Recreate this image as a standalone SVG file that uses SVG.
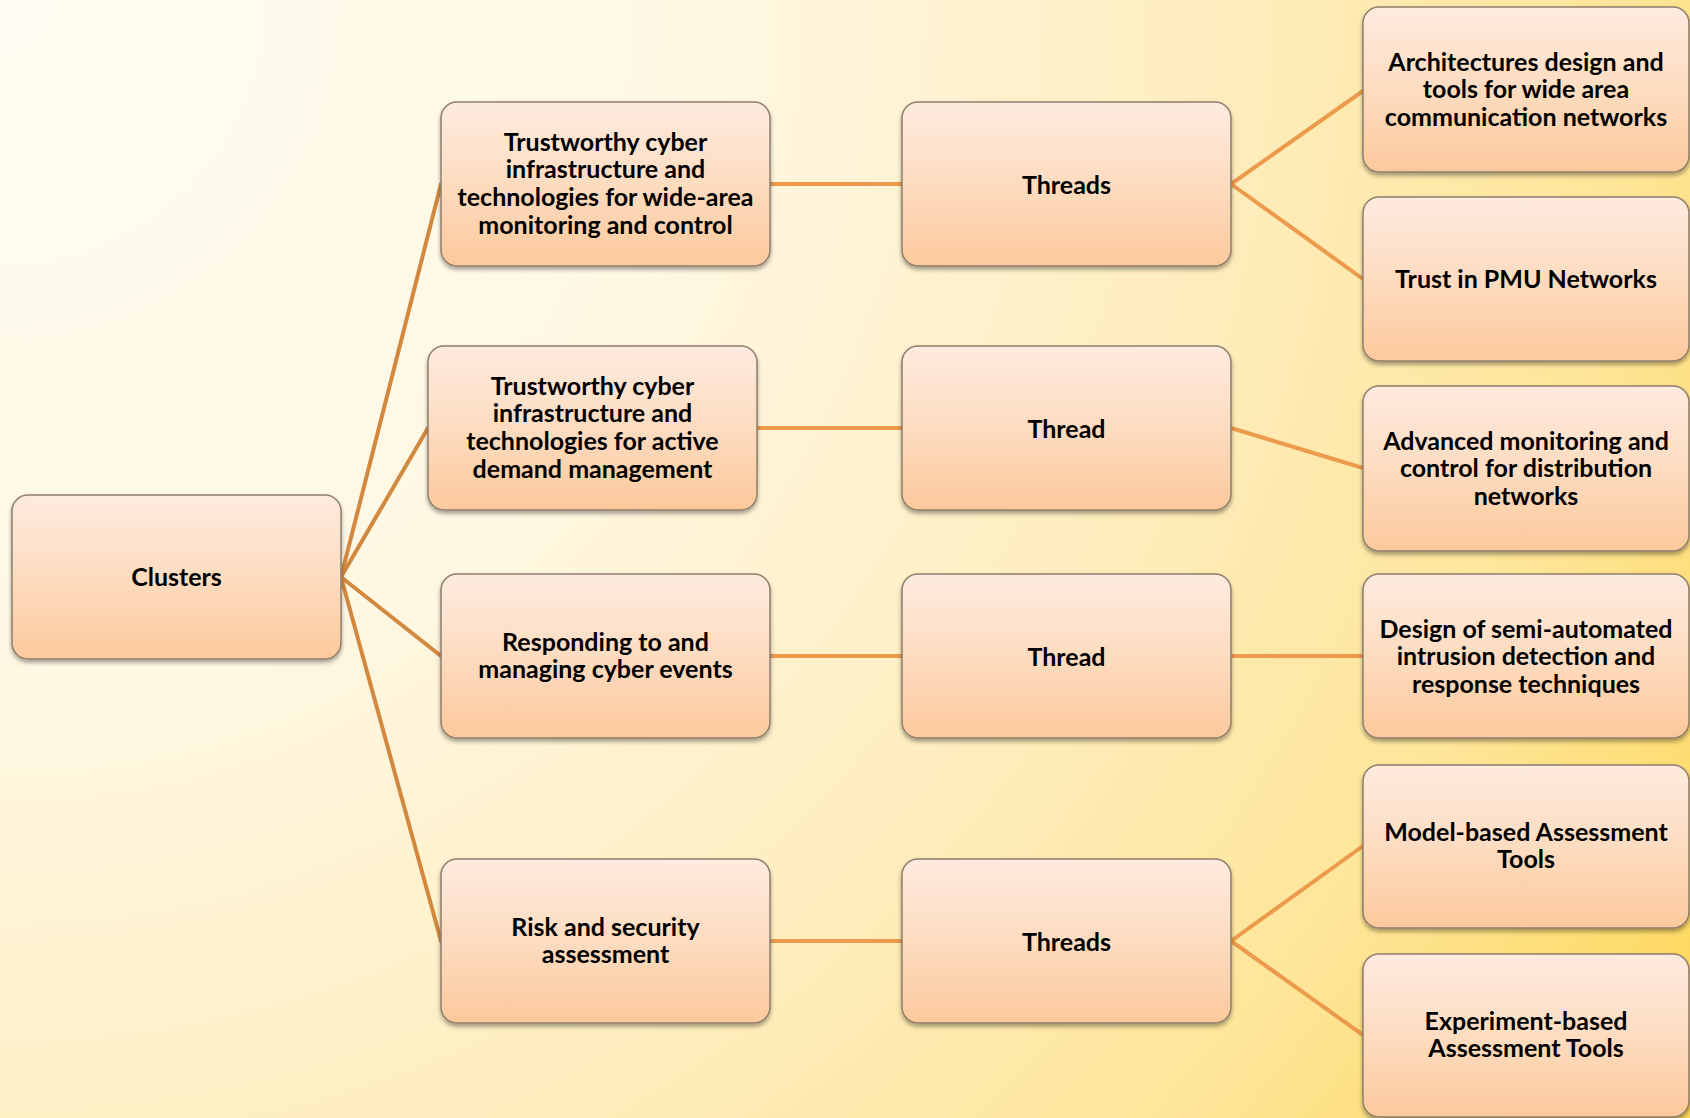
<svg xmlns="http://www.w3.org/2000/svg" width="1690" height="1118" viewBox="0 0 1690 1118">
  <defs>
    <radialGradient id="bg" cx="0" cy="0" r="2050" gradientUnits="userSpaceOnUse">
      <stop offset="0" stop-color="#fffdf2"/>
      <stop offset="0.35" stop-color="#fff7e2"/>
      <stop offset="0.6" stop-color="#feedbd"/>
      <stop offset="0.8" stop-color="#fee597"/>
      <stop offset="1" stop-color="#fdd550"/>
    </radialGradient>
    <linearGradient id="boxFill" x1="0" y1="0" x2="0" y2="1">
      <stop offset="0" stop-color="#feebdf"/>
      <stop offset="0.5" stop-color="#fddcc0"/>
      <stop offset="1" stop-color="#fcc99c"/>
    </linearGradient>
    <filter id="shadow" x="-10%" y="-10%" width="120%" height="130%">
      <feDropShadow dx="0" dy="3" stdDeviation="2.2" flood-color="#000" flood-opacity="0.35"/>
    </filter>
    <style>
      .box { fill: url(#boxFill); stroke: #8e7e6c; stroke-width: 1.5; filter: url(#shadow); }
      .lbl { font-family: "Lato", "Open Sans", "Liberation Sans", sans-serif; font-weight: bold; font-size: 25px; fill: #000; text-anchor: middle; }
      .trunk { stroke: #d2893f; stroke-width: 4; fill: none; stroke-linecap: round; }
      .branch { stroke: #ec9a4c; stroke-width: 4; fill: none; stroke-linecap: round; }
    </style>
  </defs>

  <rect x="0" y="0" width="1690" height="1118" fill="url(#bg)"/>

  <!-- connectors -->
  <g id="connectors">
    <line class="trunk" x1="341" y1="577" x2="441" y2="184"/>
    <line class="trunk" x1="341" y1="577" x2="428" y2="428"/>
    <line class="trunk" x1="341" y1="577" x2="441" y2="656"/>
    <line class="trunk" x1="341" y1="577" x2="441" y2="941"/>
    <line class="branch" x1="770" y1="184" x2="902" y2="184"/>
    <line class="branch" x1="757" y1="428" x2="902" y2="428"/>
    <line class="branch" x1="770" y1="656" x2="902" y2="656"/>
    <line class="branch" x1="770" y1="941" x2="902" y2="941"/>
    <line class="branch" x1="1231" y1="184" x2="1363" y2="91"/>
    <line class="branch" x1="1231" y1="184" x2="1363" y2="279"/>
    <line class="branch" x1="1231" y1="428" x2="1363" y2="468"/>
    <line class="branch" x1="1231" y1="656" x2="1363" y2="656"/>
    <line class="branch" x1="1231" y1="941" x2="1363" y2="846"/>
    <line class="branch" x1="1231" y1="941" x2="1363" y2="1035"/>
  </g>

  <!-- root -->
  <g id="clusters">
    <rect class="box" x="12" y="495" width="329" height="164" rx="16"/>
    <text class="lbl" x="176.5" y="586">Clusters</text>
  </g>

  <!-- clusters -->
  <g id="cluster-wide-area">
    <rect class="box" x="441" y="102" width="329" height="164" rx="16"/>
    <text class="lbl" x="605.5" y="151">Trustworthy cyber</text>
    <text class="lbl" x="605.5" y="178">infrastructure and</text>
    <text class="lbl" x="605.5" y="206">technologies for wide-area</text>
    <text class="lbl" x="605.5" y="234">monitoring and control</text>
  </g>
  <g id="cluster-demand">
    <rect class="box" x="428" y="346" width="329" height="164" rx="16"/>
    <text class="lbl" x="592.5" y="395">Trustworthy cyber</text>
    <text class="lbl" x="592.5" y="422">infrastructure and</text>
    <text class="lbl" x="592.5" y="450">technologies for active</text>
    <text class="lbl" x="592.5" y="478">demand management</text>
  </g>
  <g id="cluster-events">
    <rect class="box" x="441" y="574" width="329" height="164" rx="16"/>
    <text class="lbl" x="605.5" y="651">Responding to and</text>
    <text class="lbl" x="605.5" y="678">managing cyber events</text>
  </g>
  <g id="cluster-risk">
    <rect class="box" x="441" y="859" width="329" height="164" rx="16"/>
    <text class="lbl" x="605.5" y="936">Risk and security</text>
    <text class="lbl" x="605.5" y="963">assessment</text>
  </g>

  <!-- thread hubs -->
  <g id="threads-1">
    <rect class="box" x="902" y="102" width="329" height="164" rx="16"/>
    <text class="lbl" x="1066.5" y="194">Threads</text>
  </g>
  <g id="thread-2">
    <rect class="box" x="902" y="346" width="329" height="164" rx="16"/>
    <text class="lbl" x="1066.5" y="438">Thread</text>
  </g>
  <g id="thread-3">
    <rect class="box" x="902" y="574" width="329" height="164" rx="16"/>
    <text class="lbl" x="1066.5" y="666">Thread</text>
  </g>
  <g id="threads-4">
    <rect class="box" x="902" y="859" width="329" height="164" rx="16"/>
    <text class="lbl" x="1066.5" y="951">Threads</text>
  </g>

  <!-- thread topics -->
  <g id="topic-architectures">
    <rect class="box" x="1363" y="7" width="326" height="165" rx="16"/>
    <text class="lbl" x="1526" y="71">Architectures design and</text>
    <text class="lbl" x="1526" y="98">tools for wide area</text>
    <text class="lbl" x="1526" y="126">communication networks</text>
  </g>
  <g id="topic-pmu">
    <rect class="box" x="1363" y="197" width="326" height="164" rx="16"/>
    <text class="lbl" x="1526" y="288">Trust in PMU Networks</text>
  </g>
  <g id="topic-distribution">
    <rect class="box" x="1363" y="386" width="326" height="165" rx="16"/>
    <text class="lbl" x="1526" y="450">Advanced monitoring and</text>
    <text class="lbl" x="1526" y="477">control for distribution</text>
    <text class="lbl" x="1526" y="505">networks</text>
  </g>
  <g id="topic-intrusion">
    <rect class="box" x="1363" y="574" width="326" height="164" rx="16"/>
    <text class="lbl" x="1526" y="638">Design of semi-automated</text>
    <text class="lbl" x="1526" y="665">intrusion detection and</text>
    <text class="lbl" x="1526" y="693">response techniques</text>
  </g>
  <g id="topic-model">
    <rect class="box" x="1363" y="765" width="326" height="163" rx="16"/>
    <text class="lbl" x="1526" y="841">Model-based Assessment</text>
    <text class="lbl" x="1526" y="868">Tools</text>
  </g>
  <g id="topic-experiment">
    <rect class="box" x="1363" y="954" width="326" height="163" rx="16"/>
    <text class="lbl" x="1526" y="1030">Experiment-based</text>
    <text class="lbl" x="1526" y="1057">Assessment Tools</text>
  </g>
</svg>
